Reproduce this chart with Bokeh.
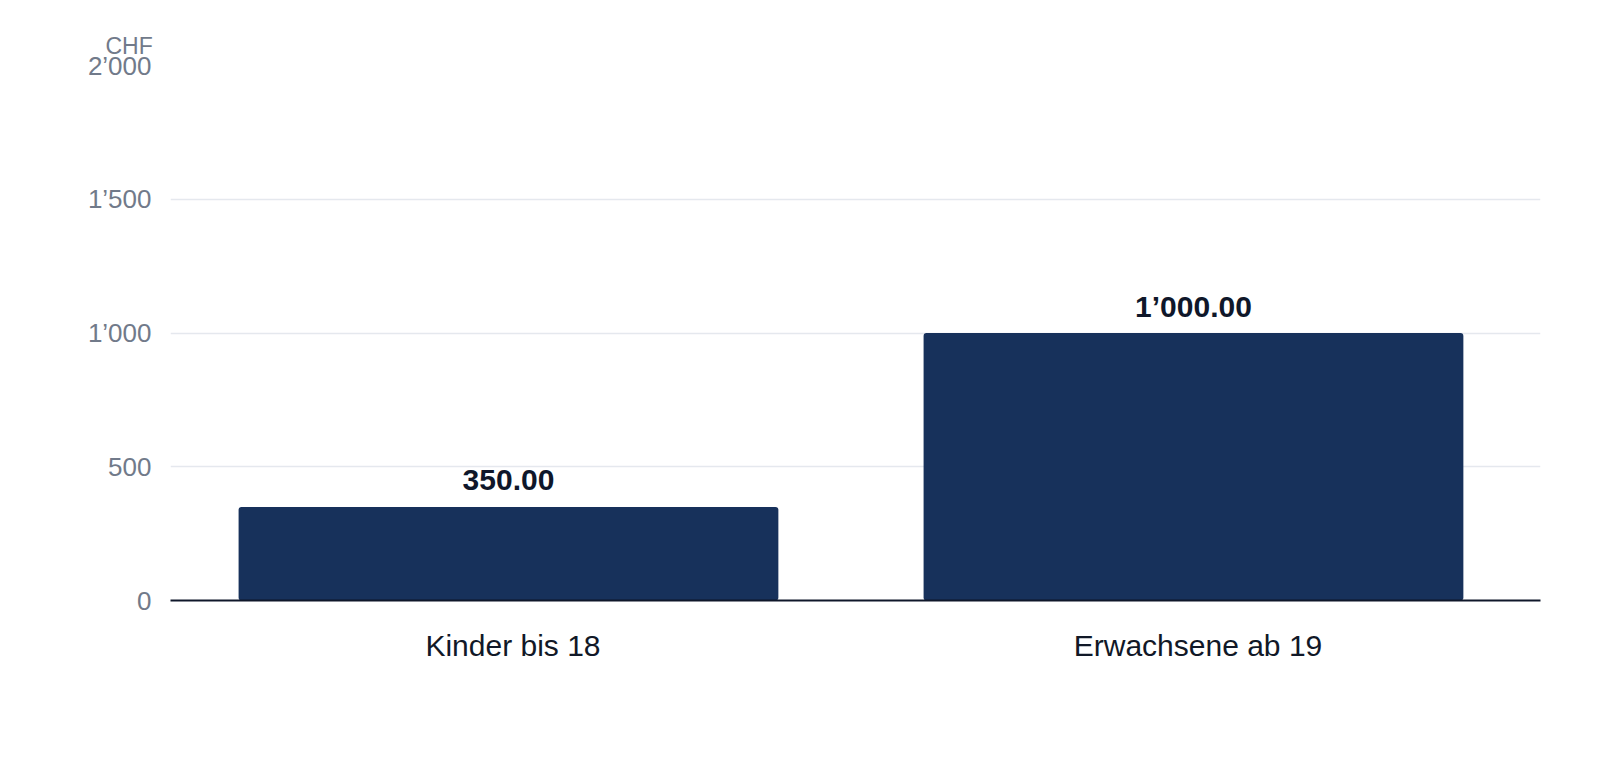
from bokeh.plotting import figure
from bokeh.models import ColumnDataSource, CustomJSTickFormatter, FixedTicker, Title
from bokeh.transform import dodge
from bokeh.core.properties import value
from bokeh.embed import file_html
from bokeh.resources import INLINE

categories = ["Kinder bis 18", "Erwachsene ab 19"]
amounts = [350, 1000]
amount_labels = ["350.00", "1\u2019000.00"]
y_ticks = [0, 500, 1000, 1500, 2000]
unit_label = "CHF"

FONT = "Liberation Sans"
BAR = "#17315B"

src = ColumnDataSource(dict(cat=categories, val=amounts, lab=amount_labels))

p = figure(x_range=categories, y_range=(0, 2000), width=1584, height=744,
           output_backend="svg", toolbar_location=None,
           min_border_left=170, min_border_right=44, min_border_top=65, min_border_bottom=144)
p.x_range.range_padding = 0
p.outline_line_color = None
p.background_fill_color = "white"
p.border_fill_color = "white"

xpos = dodge("cat", -0.0066, range=p.x_range)
p.vbar(x=xpos, top="val", width=0.788, source=src, fill_color=BAR, line_color=None,
       border_radius=3)
p.text(x=xpos, y="val", text="lab", source=src, text_align="center",
       text_baseline="middle", y_offset=-27, text_font=value(FONT),
       text_font_style="bold", text_font_size="30px", text_color="#0f172a")

p.xgrid.grid_line_color = None
p.ygrid.grid_line_color = "#e5e8ee"
p.ygrid.grid_line_width = 1.5

p.yaxis.ticker = FixedTicker(ticks=y_ticks)
p.yaxis.formatter = CustomJSTickFormatter(code="""
return Math.round(tick).toString().replace(/\\B(?=(\\d{3})+(?!\\d))/g, "\u2019");
""")
p.yaxis.axis_line_color = None
p.yaxis.major_tick_line_color = None
p.yaxis.minor_tick_line_color = None
p.yaxis.major_label_text_font = FONT
p.yaxis.major_label_text_font_size = "26px"
p.yaxis.major_label_text_color = "#717a8a"
p.yaxis.major_label_standoff = 13

p.xaxis.axis_line_color = "#0f172a"
p.xaxis.axis_line_width = 2
p.xaxis.major_tick_line_color = None
p.xaxis.minor_tick_line_color = None
p.xaxis.major_label_text_font = FONT
p.xaxis.major_label_text_font_size = "30px"
p.xaxis.major_label_text_color = "#111827"
p.xaxis.major_label_standoff = 22

p.add_layout(Title(text=unit_label, align="left", offset=-65, standoff=14,
                   text_font=FONT, text_font_size="23px", text_font_style="normal",
                   text_color="#717a8a"), "above")

open("out.html", "w").write(file_html(p, INLINE))
